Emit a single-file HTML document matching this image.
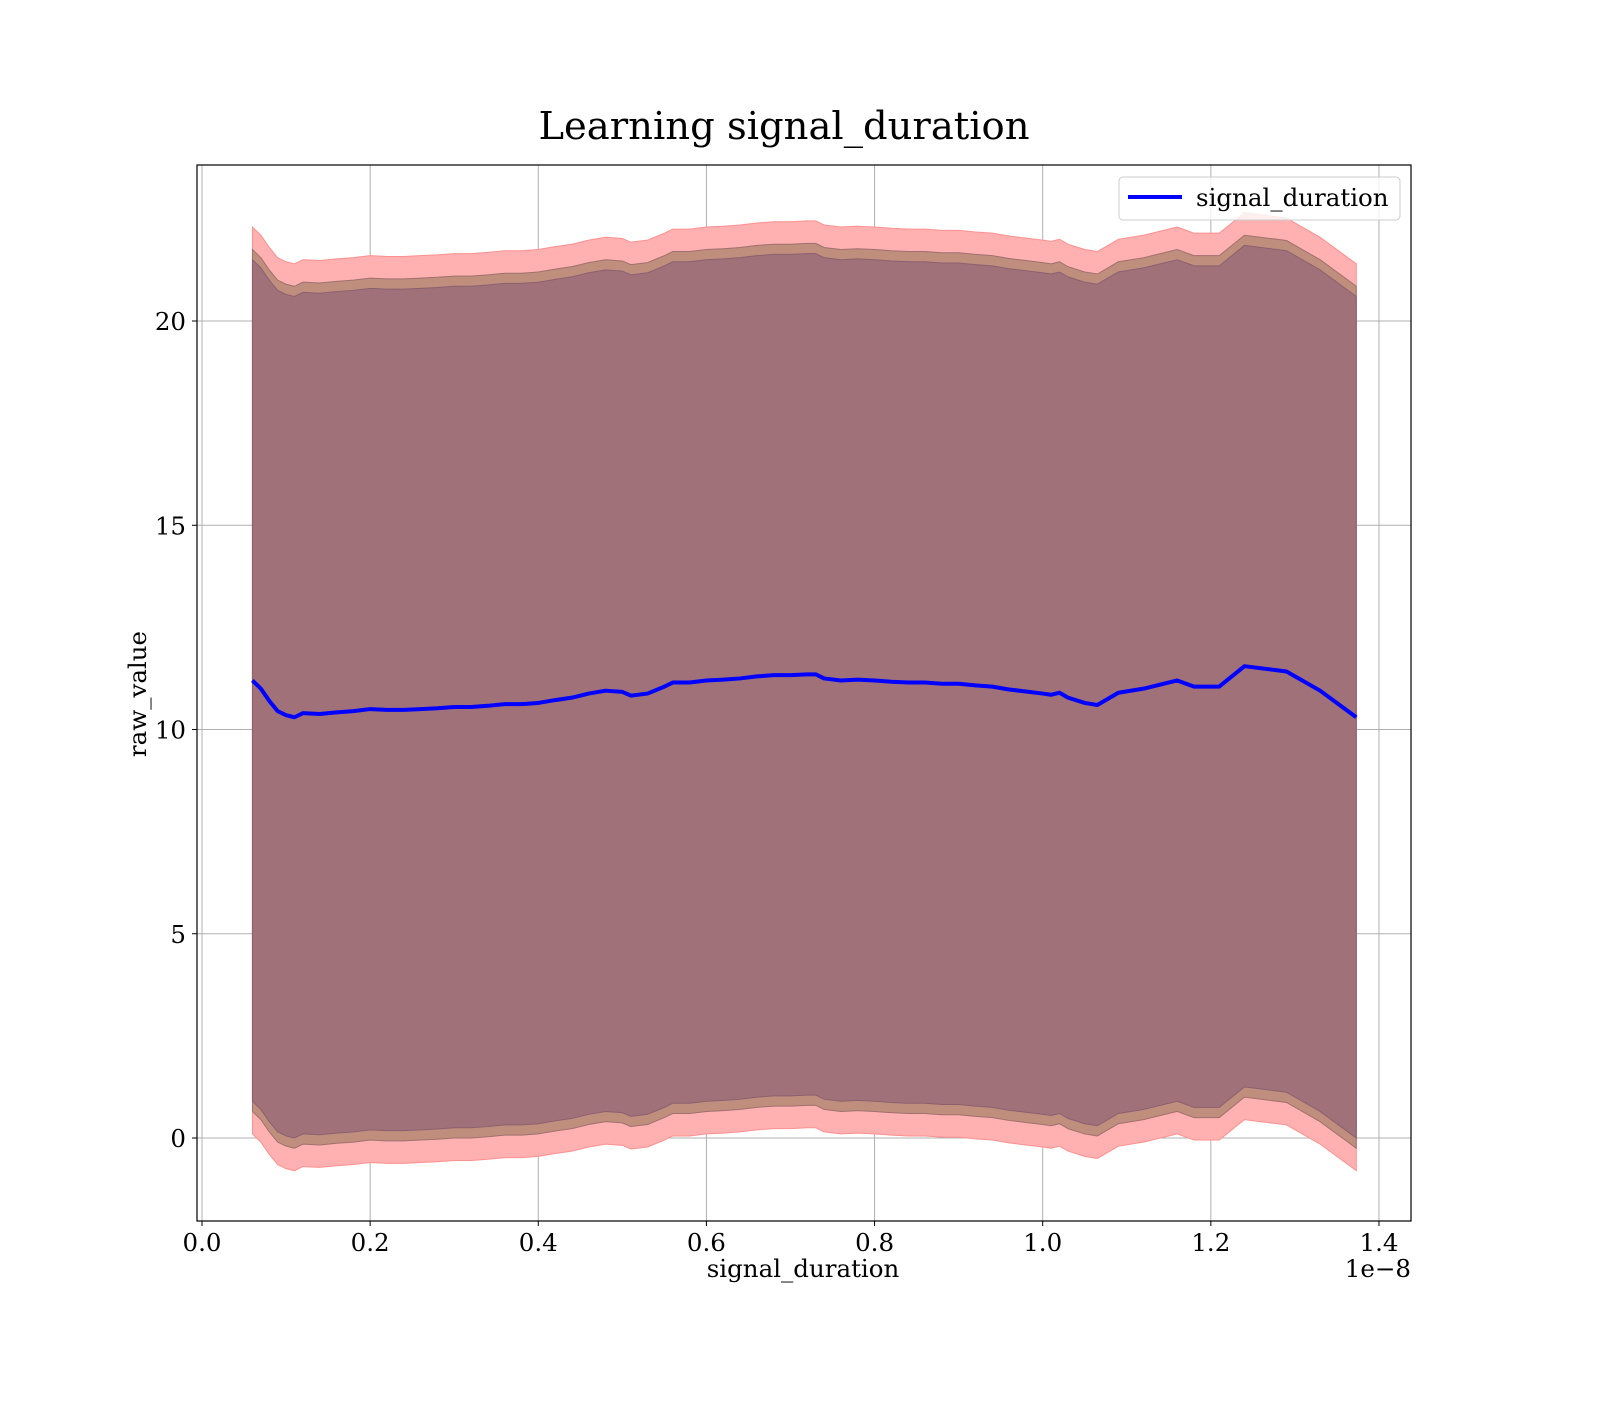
<!DOCTYPE html>
<html><head><meta charset="utf-8"><style>
body{margin:0;background:#fff}
svg text{font-family:"DejaVu Serif","Liberation Serif",serif}
</style></head><body>
<svg id="chart" width="1600" height="1400" xmlns="http://www.w3.org/2000/svg">
<rect width="1600" height="1400" fill="#fff"/>
<g id="grid"></g>
<g id="bands"></g>
<g id="lines"></g>
<rect x="197" y="165" width="1214" height="1056" fill="none" stroke="#000" stroke-width="1.2"/>
<g id="ticks"></g>
<text x="784" y="139" font-size="38.5" text-anchor="middle">Learning signal_duration</text>
<text x="803" y="1277" font-size="24.5" text-anchor="middle">signal_duration</text>
<text x="146" y="694" font-size="24.5" text-anchor="middle" transform="rotate(-90 146 694)">raw_value</text>
<text x="1411" y="1277" font-size="24.5" text-anchor="end">1e−8</text>
<g>
<rect x="1119" y="177" width="281" height="43" rx="4" fill="#fff" fill-opacity="0.8" stroke="#ccc"/>
<line x1="1128" y1="197" x2="1182" y2="197" stroke="#0000ff" stroke-width="4"/>
<text x="1196" y="206" font-size="24.5">signal_duration</text>
</g>
</svg>
<script>
const xs=[0.06,0.07,0.08,0.09,0.10,0.11,0.12,0.14,0.16,0.18,0.20,0.22,0.24,0.26,0.28,0.30,0.32,0.34,0.36,0.38,0.40,0.42,0.44,0.46,0.48,0.50,0.51,0.53,0.55,0.56,0.58,0.60,0.62,0.64,0.66,0.68,0.70,0.72,0.73,0.74,0.76,0.78,0.80,0.82,0.84,0.86,0.88,0.90,0.92,0.94,0.96,0.98,1.00,1.01,1.02,1.03,1.05,1.065,1.09,1.12,1.16,1.18,1.21,1.24,1.29,1.33,1.373];
const meanVals=[11.2,11.0,10.7,10.45,10.35,10.3,10.4,10.38,10.42,10.45,10.5,10.48,10.48,10.5,10.52,10.55,10.55,10.58,10.62,10.62,10.65,10.72,10.78,10.88,10.95,10.92,10.83,10.88,11.05,11.15,11.15,11.2,11.22,11.25,11.3,11.33,11.33,11.35,11.35,11.25,11.2,11.22,11.2,11.17,11.15,11.15,11.12,11.12,11.08,11.05,10.98,10.93,10.88,10.85,10.9,10.78,10.65,10.6,10.9,11.0,11.2,11.05,11.05,11.55,11.42,10.95,10.3];
const outerWidth=11.1, brownWidth=10.55, innerWidth=10.3;
const xTicks=[0,0.2,0.4,0.6,0.8,1.0,1.2,1.4];
const xTickLabels=["0.0","0.2","0.4","0.6","0.8","1.0","1.2","1.4"];
const yTicks=[0,5,10,15,20];
const yTickLabels=["0","5","10","15","20"];
const NS="http://www.w3.org/2000/svg";
const X=v=>202+v*840.7, Y=v=>1138-v*40.85;
function mk(tag,attrs,parent){const e=document.createElementNS(NS,tag);for(const k in attrs)e.setAttribute(k,attrs[k]);document.getElementById(parent).appendChild(e);return e;}
xTicks.forEach((t,i)=>{
 const g=mk('line',{x1:X(t),x2:X(t),y1:165,y2:1221,stroke:'#b0b0b0','stroke-width':1},'grid');
 
 
 const tk=mk('line',{x1:X(t),x2:X(t),y1:1221,y2:1226,stroke:'#000'},'ticks');
 
 
 const tx=mk('text',{x:X(t),y:1251,'font-size':24.5,'text-anchor':'middle'},'ticks');tx.textContent=xTickLabels[i];
 
 
});
yTicks.forEach((t,i)=>{
 const g=mk('line',{x1:197,x2:1411,y1:Y(t),y2:Y(t),stroke:'#b0b0b0','stroke-width':1},'grid');
 
 
 const tk=mk('line',{x1:192,x2:197,y1:Y(t),y2:Y(t),stroke:'#000'},'ticks');
 
 
 const tx=mk('text',{x:186,y:Y(t)+9,'font-size':24.5,'text-anchor':'end'},'ticks');tx.textContent=yTickLabels[i];
 
 
});
function band(w,fill,stroke,name){
 let up=xs.map((x,i)=>X(x)+','+Y(meanVals[i]+w));
 let lo=xs.map((x,i)=>X(x)+','+Y(meanVals[i]-w)).reverse();
 const p=mk('polygon',{points:up.concat(lo).join(' '),fill:fill,stroke:stroke,'stroke-width':1},'bands');
 
 
}
band(outerWidth,'#ffb0b0','#ff9090','outer-band');
band(brownWidth,'#c08e7c','#a07070','middle-band');
band(innerWidth,'#a1717a','#8a6070','inner-band');
const ln=mk('polyline',{points:xs.map((x,i)=>X(x)+','+Y(meanVals[i])).join(' '),fill:'none',stroke:'#0000ff','stroke-width':4,'stroke-linejoin':'round'},'lines');


</script>
</body></html>
